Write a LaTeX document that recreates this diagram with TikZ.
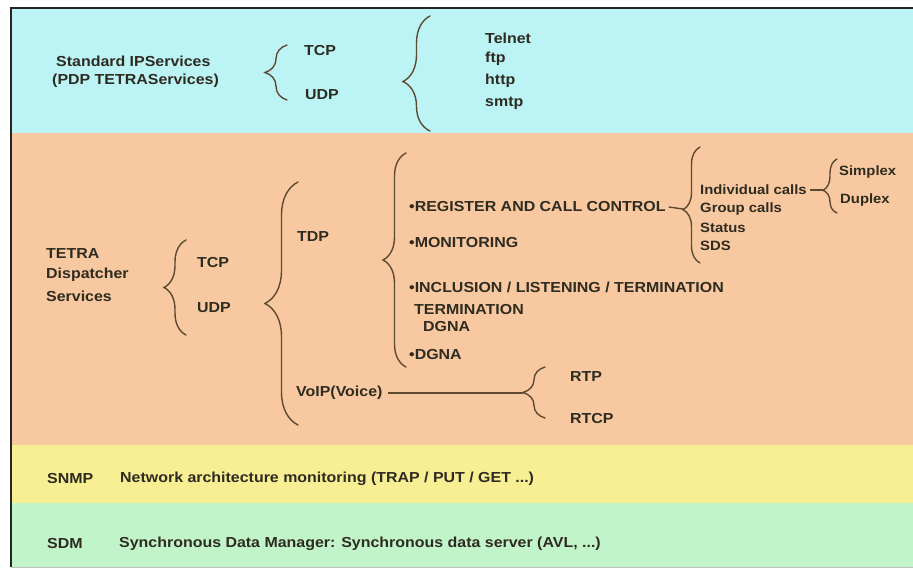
\documentclass[tikz,border=0pt]{standalone}
\usepackage{fontspec}
\setmainfont[FakeStretch=1.1]{Liberation Sans}
\usetikzlibrary{decorations.pathreplacing}

\definecolor{bandcyan}{HTML}{BCF4F5}
\definecolor{bandorange}{HTML}{F8C9A1}
\definecolor{bandyellow}{HTML}{F8EF94}
\definecolor{bandgreen}{HTML}{C2F4CA}
\definecolor{inktext}{HTML}{2E2B20}
\definecolor{inkbrace}{HTML}{5E4A30}

\tikzset{
  lbl/.style={anchor=west, inner sep=0pt, text=inktext,
              font=\fontsize{14.5}{15}\selectfont\bfseries},
  lblsmall/.style={lbl, font=\fontsize{13.5}{14}\selectfont\bfseries},
  curly/.style={draw=inkbrace, line width=1.4pt, line cap=round,
                decorate, decoration={brace, amplitude=#1}},
  curly/.default=20pt,
  link/.style={draw=inkbrace, line width=1.4pt},
}

\begin{document}
\begin{tikzpicture}[x=1pt,y=-1pt]
\useasboundingbox (0,0) rectangle (913,570);
\fill[white] (0,0) rectangle (913,570);

% coloured bands
\fill[bandcyan]   (11,8)   rectangle (913,133);
\fill[bandorange] (11,133) rectangle (913,445);
\fill[bandyellow] (11,445) rectangle (913,503);
\fill[bandgreen]  (11,503) rectangle (913,567);

% frame
\draw[black!85, line width=2pt] (913,8) -- (11,8) -- (11,567);
\draw[black!25, line width=0.8pt] (11,567) -- (913,567);

% ---------- standard IP services ----------
\node[lbl] (ipsvc)  at (56,61) {Standard IPServices};
\node[lbl] (pdpsvc) at (52,81) {(PDP TETRAServices)};

\coordinate (b1bot) at (287,100);
\coordinate (b1top) at (287,45);
\draw[curly=22pt] (b1bot) -- (b1top);
\node[lbl] (tcp1) at (304,51) {TCP};
\node[lbl] (udp1) at (305,95) {UDP};

\coordinate (b2bot) at (430,131);
\coordinate (b2top) at (430,16);
\draw[curly=27pt, decoration={aspect=0.43}] (b2bot) -- (b2top);
\node[lbl] (telnet) at (485,38)  {Telnet};
\node[lbl] (ftp)    at (485,59)  {ftp};
\node[lbl] (http)   at (485,81)  {http};
\node[lbl] (smtp)   at (485,103) {smtp};

% ---------- TETRA dispatcher services ----------
\node[lbl] (tetra) at (46,254) {TETRA};
\node[lbl] (disp)  at (46,275) {Dispatcher};
\node[lbl] (serv)  at (46,296) {Services};

\coordinate (b3bot) at (186,335);
\coordinate (b3top) at (186,240);
\draw[curly=22pt] (b3bot) -- (b3top);
\node[lbl] (tcp2) at (197,263) {TCP};
\node[lbl] (udp2) at (197,308) {UDP};

\coordinate (b4bot) at (298,425);
\coordinate (b4top) at (298,182);
\draw[curly=33pt] (b4bot) -- (b4top);
\node[lbl] (tdp)  at (297,237) {TDP};
\node[lbl] (voip) at (296,393) {VoIP(Voice)};

\coordinate (b5bot) at (406,367);
\coordinate (b5top) at (406,153);
\draw[curly=23pt, decoration={aspect=0.5}] (b5bot) -- (b5top);
\node[lbl] (reg)   at (409,207) {•REGISTER AND CALL CONTROL};
\node[lbl] (mon)   at (409,243) {•MONITORING};
\node[lbl] (incl)  at (409,287) {•INCLUSION / LISTENING / TERMINATION};
\node[lbl] (term)  at (414,310) {TERMINATION};
\node[lbl] (dgna1) at (423,327) {DGNA};
\node[lbl] (dgna2) at (409,355) {•DGNA};

% call types
\coordinate (b6bot) at (700,263);
\coordinate (b6top) at (700,147);
\coordinate (b6tip) at (683,209);
\draw[curly=17pt, decoration={aspect=0.46}] (b6bot) -- (b6top);
\draw[link] (reg.east) ++(3pt,0) -- (b6tip);
\node[lblsmall] (indiv)  at (700,190) {Individual calls};
\node[lblsmall] (group)  at (700,209) {Group calls};
\node[lblsmall] (status) at (700,228) {Status};
\node[lblsmall] (sds)    at (700,246) {SDS};

\coordinate (b7bot) at (837,213);
\coordinate (b7top) at (837,159);
\coordinate (b7tip) at (823,190);
\draw[curly=14pt, decoration={aspect=0.42}] (b7bot) -- (b7top);
\draw[link] (indiv.east) ++(3pt,0) -- (b7tip);
\node[lblsmall] (simplex) at (839,172) {Simplex};
\node[lblsmall] (duplex)  at (840,200) {Duplex};

% voice transport
\coordinate (b8bot) at (545,418);
\coordinate (b8top) at (545,367);
\coordinate (b8tip) at (523,393);
\draw[curly=22pt] (b8bot) -- (b8top);
\draw[link] (voip.east) ++(5pt,0) -- (b8tip);
\node[lbl] (rtp)  at (570,377) {RTP};
\node[lbl] (rtcp) at (570,419) {RTCP};

% ---------- SNMP ----------
\node[lbl] (snmp)    at (47,479) {SNMP};
\node[lbl] (snmptxt) at (120,479) {Network architecture monitoring (TRAP / PUT / GET ...)};

% ---------- SDM ----------
\node[lbl] (sdm)    at (47,544) {SDM};
\node[lbl] (sdmtxt) at (119,544) {Synchronous Data Manager: Synchronous data server (AVL, ...)};
\end{tikzpicture}
\end{document}
